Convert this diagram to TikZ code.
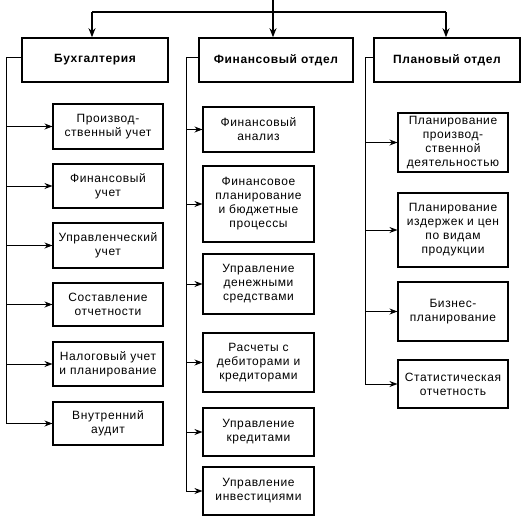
\documentclass[tikz,border=0pt]{standalone}
\usepackage{fontspec}
\setmainfont{Liberation Sans}[LetterSpace=5]
\usetikzlibrary{arrows.meta,calc}
\begin{document}
\begin{tikzpicture}[x=1pt,y=-1pt,
  head/.style={draw=black, line width=1.6pt, minimum height=44pt, inner sep=0pt,
    font=\fontsize{12}{14}\selectfont\bfseries, align=center},
  item/.style={draw=black, line width=1.1pt, inner sep=0pt, align=center,
    font=\fontsize{12}{14}\selectfont},
  spine/.style={line width=0.9pt},
  conn/.style={line width=0.9pt, -{Stealth[length=8pt,width=6pt]}},
  topc/.style={line width=1.4pt, -{Stealth[length=9pt,width=7pt]}}]
\useasboundingbox (0,0) rectangle (531,520);
% headers
\node[head, minimum width=146pt] (B) at (95,60) {Бухгалтерия};
\node[head, minimum width=154pt] (F) at (276,60) {Финансовый отдел};
\node[head, minimum width=146pt] (P) at (447,60) {Плановый отдел};
% top connectors
\coordinate (top) at (273,0);
\coordinate (tm) at (273,12);
\coordinate (tl) at (92,12);
\coordinate (tr) at (446,12);
\draw[line width=1.4pt] (tl) -- (tr);
\draw[topc] (top) -- (F.north -| tm);
\draw[topc] (tl) -- (tl |- B.north);
\draw[topc] (tr) -- (tr |- P.north);
% left column
\node[item, minimum width=110pt, minimum height=45pt] (L1) at (108,126.5) {Производ-\\ственный учет};
\node[item, minimum width=110pt, minimum height=44pt] (L2) at (108,186) {Финансовый\\учет};
\node[item, minimum width=110pt, minimum height=45pt] (L3) at (108,245.5) {Управленческий\\учет};
\node[item, minimum width=110pt, minimum height=43pt] (L4) at (108,304.5) {Составление\\отчетности};
\node[item, minimum width=110pt, minimum height=44pt] (L5) at (108,364) {Налоговый учет\\и планирование};
\node[item, minimum width=110pt, minimum height=43pt] (L6) at (108,423.5) {Внутренний\\аудит};
% finance column
\node[item, minimum width=111pt, minimum height=45pt] (F1) at (258.5,129.5) {Финансовый\\анализ};
\node[item, minimum width=111pt, minimum height=76pt] (F2) at (258.5,204) {Финансовое\\планирование\\и бюджетные\\процессы};
\node[item, minimum width=111pt, minimum height=60pt] (F3) at (258.5,284) {Управление\\денежными\\средствами};
\node[item, minimum width=111pt, minimum height=59pt] (F4) at (258.5,362.5) {Расчеты с\\дебиторами и\\кредиторами};
\node[item, minimum width=111pt, minimum height=48pt] (F5) at (258.5,432) {Управление\\кредитами};
\node[item, minimum width=111pt, minimum height=48pt] (F6) at (258.5,491) {Управление\\инвестициями};
% plan column
\node[item, minimum width=110pt, minimum height=59pt] (P1) at (453,142.5) {Планирование\\производ-\\ственной\\деятельностью};
\node[item, minimum width=110pt, minimum height=74pt] (P2) at (453,230) {Планирование\\издержек и цен\\по видам\\продукции};
\node[item, minimum width=110pt, minimum height=59pt] (P3) at (453,311.5) {Бизнес-\\планирование};
\node[item, minimum width=110pt, minimum height=48pt] (P4) at (453,384) {Статистическая\\отчетность};
% column spines
\coordinate (bs) at ($(B.west)+(0,-3)$);
\coordinate (fs) at ($(F.west)+(0,-3)$);
\coordinate (ps) at ($(P.west)+(0,-3)$);
\coordinate (lx) at (6,0);
\coordinate (fx) at (186,0);
\coordinate (px) at (365,0);
\draw[spine] (bs) -- (bs -| lx) -- (lx |- L6);
\draw[spine] (fs) -- (fs -| fx) -- (fx |- F6);
\draw[spine] (ps) -- (ps -| px) -- (px |- P4);
\foreach \n in {L1,L2,L3,L4,L5,L6} \draw[conn] (lx |- \n) -- (\n.west);
\foreach \n in {F1,F2,F3,F4,F5,F6} \draw[conn] (fx |- \n) -- (\n.west);
\foreach \n in {P1,P2,P3,P4} \draw[conn] (px |- \n) -- (\n.west);
\end{tikzpicture}
\end{document}
